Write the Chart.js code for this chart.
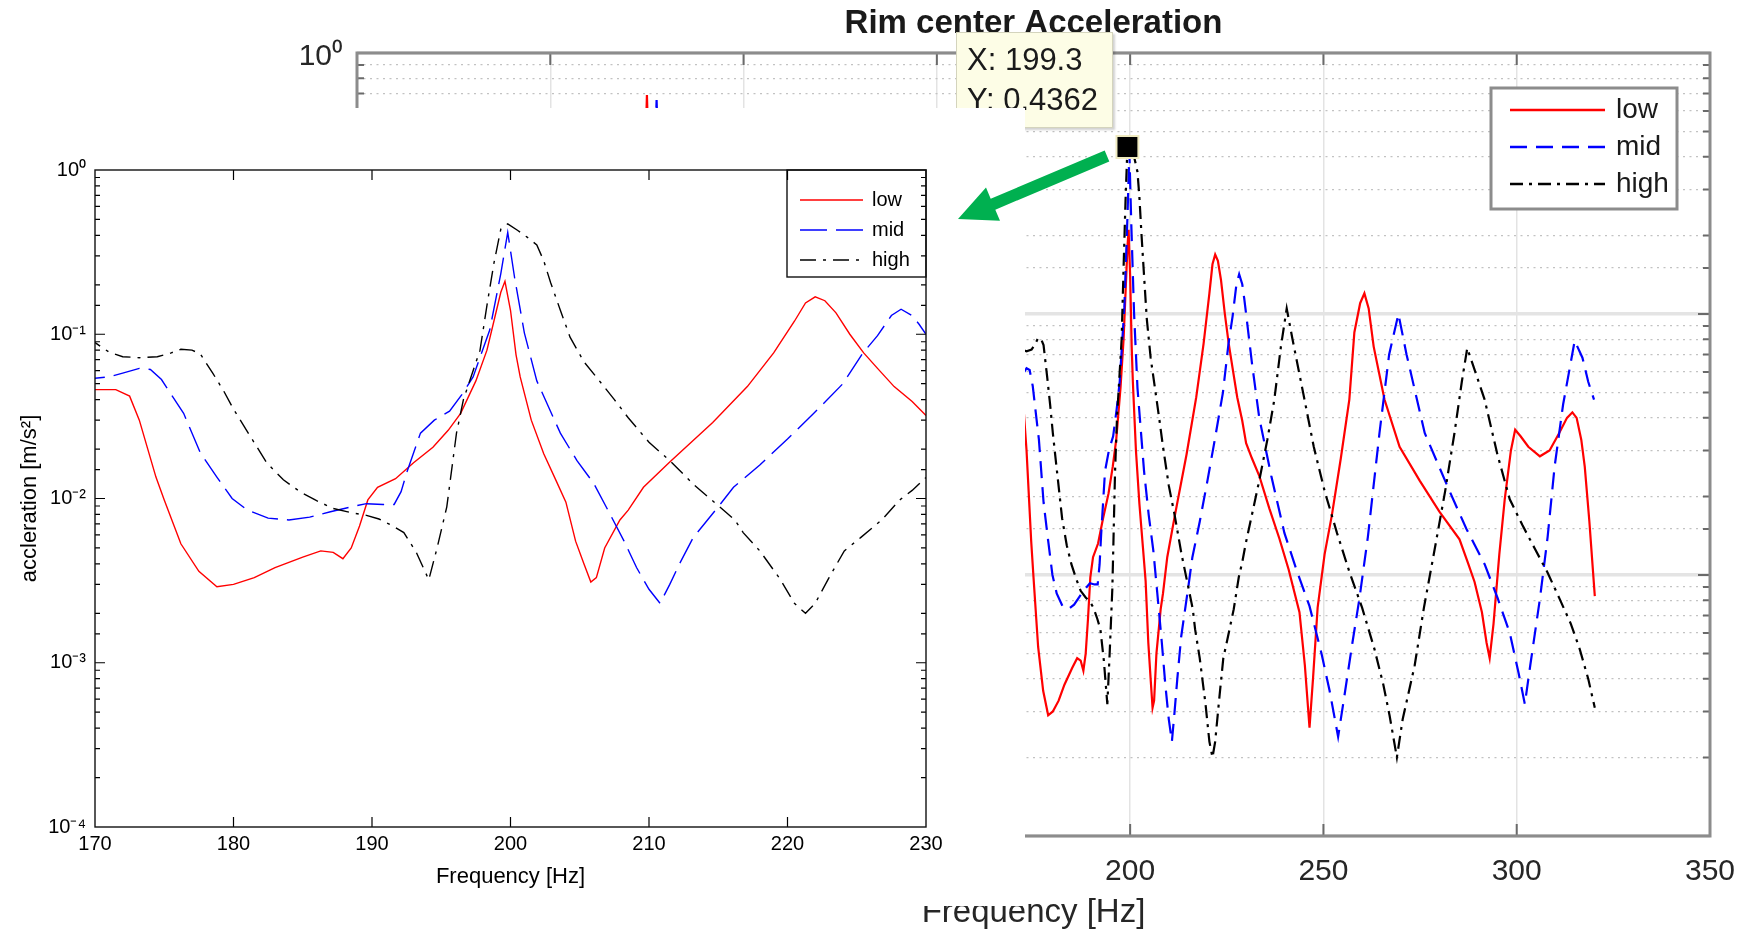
<!DOCTYPE html>
<html>
<head>
<meta charset="utf-8">
<script src="https://cdn.jsdelivr.net/npm/chart.js@4.4.1/dist/chart.umd.min.js"></script>
<style>
html,body{margin:0;padding:0;background:#fff;}
#wrap{position:relative;width:1744px;height:934px;overflow:hidden;background:#fff;}
#bg{position:absolute;left:0;top:0;}
#tip{position:absolute;left:956px;top:32px;width:157px;height:96px;box-sizing:border-box;background:#fdfde6;border:1px solid #d4d4bd;box-shadow:2px 2px 2px rgba(0,0,0,.18);font:31px 'Liberation Sans',Arial,sans-serif;color:#1a1a1a;padding:7px 0 0 10px;line-height:40px;white-space:nowrap;}
#insetBox{position:absolute;left:0;top:108px;width:1025px;height:798px;background:#fff;}
#inset{display:block;}
#arrow{position:absolute;left:0;top:0;pointer-events:none;}
</style>
</head>
<body>
<div id="wrap">
  <canvas id="bg" width="1744" height="934"></canvas>
  <div id="tip"></div>
  <div id="insetBox"><canvas id="inset" width="1025" height="798"></canvas></div>
  <svg id="arrow" width="1744" height="934">
    <polygon points="1104.7,150.5 990.7,198.7 986,187.6 958,219 1000,220.8 995.3,209.7 1109.3,161.5" fill="#00b050"/>
  </svg>
</div>
<script>
// ---------------- data ----------------
const seriesNames = ['low', 'mid', 'high'];

const lowFreq = [70,74,75,76,80,
  170,171.5,172.5,173.2,174.4,175,176.2,177.5,178.8,180,181.5,183,185,186.3,187.2,187.9,188.5,189.1,189.7,190.4,191.7,193,194.4,195.5,196.4,197.5,198.3,198.8,199.3,199.6,200,200.4,200.7,201.5,202.4,203.3,204,204.7,205.3,205.8,206.2,206.8,207.9,208.5,209.6,211.5,214.6,217.1,219,220.5,221.3,222,222.7,223.5,224.5,225.5,226.5,227.7,229,230,
  231.5,233.4,236,238.6,241,243.8,245.2,246.4,247.3,248.5,250.3,252.2,254.5,256.7,258,259.5,260.6,261.7,263,265.8,269.7,274.9,280,285.2,287.5,289.1,291,292.2,293,294,295.5,296.9,298.5,299.6,301,303,306,308.5,311,313,314.4,315.5,316.7,317.6,318.8,320.2];
const lowAccel = [0.06,0.2,0.69,0.2,0.05,
  0.046,0.046,0.042,0.030,0.0135,0.0098,0.0053,0.0036,0.0029,0.0030,0.0033,0.0038,0.0044,0.0048,0.0047,0.0043,0.0050,0.0068,0.0098,0.0117,0.0132,0.0165,0.0205,0.026,0.033,0.052,0.08,0.12,0.18,0.21,0.14,0.075,0.055,0.03,0.0187,0.0128,0.0095,0.0055,0.0040,0.0031,0.0033,0.0050,0.0074,0.0085,0.0117,0.0167,0.029,0.048,0.077,0.12,0.155,0.169,0.16,0.135,0.1,0.077,0.062,0.048,0.039,0.032,
  0.028,0.024,0.018,0.0138,0.0105,0.0072,0.0045,0.0026,0.0040,0.0075,0.012,0.017,0.028,0.047,0.085,0.11,0.12,0.105,0.075,0.047,0.031,0.023,0.0175,0.0137,0.011,0.0094,0.0072,0.0055,0.0048,0.0065,0.012,0.0195,0.03,0.036,0.034,0.031,0.0285,0.030,0.035,0.040,0.042,0.040,0.033,0.026,0.016,0.0083];

const midFreq = [72,76.5,77.5,78.5,83,
  170,171,172,173.2,174,174.8,175.5,176.4,177.6,178.8,179.9,181,182.5,184,185.5,187,188.5,189.6,190.8,191.6,192.1,192.5,193.5,194.5,195.6,196.5,197.3,198.5,199.3,199.8,200.3,201,201.9,203.6,204.8,206,207.3,208.2,209.1,210,210.8,211.5,212.2,213.2,215,216.1,218,220,221.9,224,225.4,226.5,227.5,228.2,229,229.5,230,
  231.5,233.4,236.5,239.9,243,246.4,249.5,251.6,253.8,255.5,257.5,259.3,261.5,264.5,267,269.4,271.5,276.2,282.6,287,291.7,295,298.2,300.5,302.1,303.5,306,308,309.8,312,315,317,318.5,320];
const midAccel = [0.05,0.2,0.66,0.2,0.04,
  0.054,0.055,0.058,0.062,0.061,0.053,0.043,0.033,0.019,0.0135,0.0100,0.0085,0.0076,0.0074,0.0077,0.0083,0.0089,0.0093,0.0092,0.0092,0.0110,0.0143,0.025,0.030,0.034,0.043,0.055,0.106,0.234,0.417,0.22,0.102,0.052,0.025,0.017,0.0124,0.0077,0.0055,0.0038,0.0028,0.0023,0.0030,0.0040,0.0058,0.0089,0.0117,0.016,0.023,0.033,0.05,0.076,0.098,0.13,0.142,0.13,0.115,0.1,
  0.065,0.04,0.024,0.0145,0.0105,0.0076,0.005,0.0036,0.0024,0.0035,0.0055,0.0081,0.014,0.035,0.07,0.1,0.07,0.035,0.021,0.015,0.011,0.0082,0.006,0.0042,0.0032,0.0045,0.0081,0.014,0.026,0.045,0.079,0.068,0.055,0.047];

const highFreq = [75,79.5,80.5,81.5,86,
  170,171,172,173.2,174.5,175.5,176.2,177,177.6,178.5,179.3,180,181.2,182.4,183.6,184.8,186,187.2,188.5,189.6,190.5,191.5,192.3,193.2,194.1,194.7,195.4,196.1,196.6,197.3,197.8,198.3,198.8,199.3,199.8,200.5,201.2,201.9,202.4,202.9,203.6,204.3,205.3,206.5,207.5,208.5,210,211.5,213.3,215.1,216.2,216.8,218,219.5,220.5,221.3,222,223,224.1,225.3,226.8,228.1,229,229.9,
  231.5,233.4,235.5,237.3,239,240.5,242,245.1,247.5,250.3,253.5,256.7,260,263.2,265.5,267.1,269,270.5,273.6,276,278.8,281.5,283.9,285.8,287.2,288.5,291.7,295,298.2,301.5,304.7,308,311.1,314,316.3,318.5,320.2];
const highAccel = [0.05,0.2,0.6,0.2,0.04,
  0.089,0.078,0.073,0.072,0.073,0.077,0.081,0.080,0.076,0.058,0.045,0.035,0.024,0.0165,0.013,0.011,0.0097,0.0087,0.0082,0.0079,0.0075,0.0068,0.0062,0.0047,0.0032,0.0050,0.0089,0.025,0.040,0.06,0.08,0.15,0.27,0.4362,0.47,0.43,0.39,0.35,0.28,0.206,0.14,0.096,0.068,0.051,0.04,0.031,0.022,0.017,0.012,0.0089,0.0074,0.0062,0.0048,0.0032,0.0023,0.0020,0.0023,0.0033,0.0048,0.0058,0.0074,0.0098,0.0112,0.0132,
  0.017,0.023,0.033,0.047,0.075,0.105,0.08,0.047,0.031,0.021,0.0145,0.0103,0.0075,0.0052,0.0038,0.0029,0.0020,0.0028,0.0045,0.0075,0.0126,0.021,0.035,0.055,0.074,0.065,0.047,0.029,0.0195,0.0155,0.0126,0.0102,0.0081,0.0065,0.0052,0.004,0.0031];

const tipX = 199.3;
const tipY = 0.4362;

const mainTitle = 'Rim center Acceleration';
const xTitle = 'Frequency [Hz]';
const yTitle = 'accleration [m/s²]';

// ---------------- helpers ----------------
const FAM = "'Liberation Sans', Arial, Helvetica, sans-serif";
const SUP = {'-':'⁻','0':'⁰','1':'¹','2':'²','3':'³','4':'⁴','5':'⁵','6':'⁶','7':'⁷','8':'⁸','9':'⁹'};
const isMajor = v => { const e = Math.log10(v); return Math.abs(e - Math.round(e)) < 1e-6; };
const pow10Label = v => isMajor(v) ? '10' + String(Math.round(Math.log10(v))).split('').map(c => SUP[c]).join('') : '';
const pts = (f, a) => f.map((x, i) => ({x: x, y: a[i]}));

function makeDatasets(st) {
  const src = [[lowFreq, lowAccel, '#ff0000', [], 3], [midFreq, midAccel, '#0000ff', st.midDash, 2], [highFreq, highAccel, '#000000', st.highDash, 1]];
  return src.map((s, i) => ({
    label: seriesNames[i], data: pts(s[0], s[1]), borderColor: s[2], borderDash: s[3],
    borderWidth: st.w, pointRadius: 0, tension: 0, fill: false, order: s[4]
  }));
}

const matlabPlugin = {
  id: 'matlab',
  afterDatasetsDraw(chart, args, o) {
    const {ctx, chartArea: a} = chart;
    const xs = chart.scales.x, ys = chart.scales.y;
    ctx.save();
    // legend box
    const L = o.legend;
    const right = a.right - L.offsetRight, top = a.top + L.offsetTop, left = right - L.width;
    ctx.fillStyle = '#ffffff';
    ctx.fillRect(left, top, L.width, L.height);
    ctx.lineWidth = L.borderWidth; ctx.strokeStyle = L.borderColor;
    ctx.strokeRect(left, top, L.width, L.height);
    ctx.font = L.font; ctx.textBaseline = 'middle'; ctx.textAlign = 'left';
    chart.data.datasets.filter(d => d.label).forEach((d, i) => {
      const yy = top + L.rows[i];
      ctx.save();
      ctx.strokeStyle = d.borderColor; ctx.lineWidth = L.lineWidth;
      ctx.setLineDash(d.borderDash || []);
      ctx.beginPath(); ctx.moveTo(left + L.x0, yy); ctx.lineTo(left + L.x1, yy); ctx.stroke();
      ctx.restore();
      ctx.fillStyle = L.color;
      ctx.fillText(d.label, left + L.textX, yy);
    });
    // inward tick marks
    ctx.strokeStyle = o.tickColor; ctx.lineWidth = o.tickWidth; ctx.setLineDash([]);
    ctx.beginPath();
    xs.ticks.forEach(t => {
      const px = xs.getPixelForValue(t.value);
      if (px <= a.left + 1 || px >= a.right - 1) return;
      ctx.moveTo(px, a.bottom); ctx.lineTo(px, a.bottom - o.major);
      ctx.moveTo(px, a.top); ctx.lineTo(px, a.top + o.major);
    });
    ys.ticks.forEach(t => {
      const py = ys.getPixelForValue(t.value);
      if (py <= a.top + 1 || py >= a.bottom - 1) return;
      const len = isMajor(t.value) ? o.major : o.minor;
      ctx.moveTo(a.left, py); ctx.lineTo(a.left + len, py);
      ctx.moveTo(a.right, py); ctx.lineTo(a.right - len, py);
    });
    ctx.stroke();
    // axes box
    ctx.strokeStyle = o.boxColor; ctx.lineWidth = o.boxWidth;
    ctx.strokeRect(a.left, a.top, a.right - a.left, a.bottom - a.top);
    ctx.restore();
  }
};

// ---------------- background (full) figure ----------------
const bgData = makeDatasets({w: 2.2, midDash: [17, 9], highDash: [13, 6, 3, 6]});
bgData.push({
  data: [{x: tipX, y: tipY}], showLine: false, pointStyle: 'rect', pointRadius: 15.5,
  pointBackgroundColor: '#000000', pointBorderColor: '#efeac0', pointBorderWidth: 2, order: -1
});

new Chart(document.getElementById('bg'), {
  type: 'line',
  data: {datasets: bgData},
  plugins: [matlabPlugin],
  options: {
    responsive: false, animation: false, events: [],
    layout: {padding: {top: 0, right: 34, left: 0, bottom: 0}},
    plugins: {
      legend: {display: false}, tooltip: {enabled: false},
      title: {display: true, text: mainTitle, fullSize: false, color: '#1a1a1a',
        font: {family: FAM, size: 33, weight: 'bold'}, padding: {top: 4, bottom: 9.4}},
      matlab: {
        tickColor: '#6a6a6a', tickWidth: 2, major: 12, minor: 7, boxColor: '#8c8c8c', boxWidth: 3,
        legend: {offsetRight: 33, offsetTop: 35, width: 186, height: 121, x0: 19, x1: 114, textX: 125,
          rows: [22, 59, 96], font: '28px ' + FAM, color: '#1a1a1a', borderColor: '#8c8c8c', borderWidth: 3, lineWidth: 2.5}
      }
    },
    scales: {
      x: {
        type: 'linear', min: 0, max: 350,
        afterFit: s => { s.height = 98; s.paddingLeft = 0; s.paddingRight = 0; },
        ticks: {stepSize: 50, padding: 18, color: '#262626', font: {family: FAM, size: 30}, maxRotation: 0},
        grid: {color: '#e3e3e3', lineWidth: 1.5, drawTicks: false},
        border: {display: false},
        title: {display: true, text: xTitle, color: '#262626', font: {family: FAM, size: 33}, padding: {top: 0, bottom: 1}}
      },
      y: {
        type: 'logarithmic', min: 1e-3, max: 1,
        afterFit: s => { s.width = 357; },
        ticks: {autoSkip: false, padding: 14, labelOffset: 4, color: '#262626', font: {family: FAM, size: 30}, callback: v => pow10Label(v)},
        grid: {
          drawTicks: false,
          color: c => (c.tick && isMajor(c.tick.value)) ? '#e4e4e4' : '#c2c2c2',
          lineWidth: c => (c.tick && isMajor(c.tick.value)) ? 3.5 : 1.3
        },
        border: {display: false, dash: c => (c.tick && !isMajor(c.tick.value)) ? [2, 4.5] : []}
      }
    }
  }
});

// ---------------- datatip ----------------
document.getElementById('tip').innerHTML = 'X: ' + tipX + '<br>Y: ' + tipY;

// ---------------- inset figure ----------------
new Chart(document.getElementById('inset'), {
  type: 'line',
  data: {datasets: makeDatasets({w: 1.4, midDash: [27, 9], highDash: [16, 7, 3, 7]})},
  plugins: [matlabPlugin],
  options: {
    responsive: false, animation: false, events: [],
    layout: {padding: {top: 62, right: 99, left: 0, bottom: 0}},
    plugins: {
      legend: {display: false}, tooltip: {enabled: false}, title: {display: false},
      matlab: {
        tickColor: '#000000', tickWidth: 1.2, major: 10, minor: 5, boxColor: '#111111', boxWidth: 1.4,
        legend: {offsetRight: 0, offsetTop: 0, width: 139, height: 107, x0: 13, x1: 76, textX: 85,
          rows: [30, 60, 90], font: '20px ' + FAM, color: '#000000', borderColor: '#111111', borderWidth: 1.4, lineWidth: 1.4}
      }
    },
    scales: {
      x: {
        type: 'linear', min: 170, max: 230,
        afterFit: s => { s.height = 79; },
        ticks: {stepSize: 10, padding: 5, color: '#000', font: {family: FAM, size: 20}, maxRotation: 0, autoSkip: false},
        grid: {display: false, drawTicks: false},
        border: {display: false},
        title: {display: true, text: xTitle, color: '#000', font: {family: FAM, size: 22}, padding: {top: 0, bottom: 16}}
      },
      y: {
        type: 'logarithmic', min: 1e-4, max: 1,
        afterFit: s => { s.width = 95; },
        ticks: {autoSkip: false, padding: 9, color: '#000', font: {family: FAM, size: 20}, callback: v => pow10Label(v)},
        grid: {display: false, drawTicks: false},
        border: {display: false},
        title: {display: true, text: yTitle, color: '#000', font: {family: FAM, size: 22}, padding: {top: 17, bottom: 0}}
      }
    }
  }
});
</script>
</body>
</html>
